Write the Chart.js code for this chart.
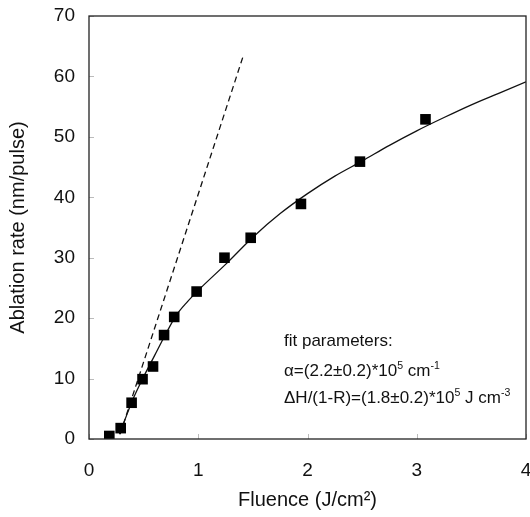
<!DOCTYPE html>
<html><head><meta charset="utf-8">
<script src="https://cdn.jsdelivr.net/npm/chart.js@4.4.1/dist/chart.umd.min.js"></script>
<style>html,body{margin:0;padding:0;background:#fff;}#wrap{width:530px;height:517px;}</style>
</head><body><div id="wrap"><canvas id="c" width="530" height="517"></canvas></div>
<script>
// measured data
const fluence = [0.186, 0.29, 0.39, 0.49, 0.586, 0.687, 0.78, 0.985, 1.24, 1.48, 1.94, 2.48, 3.08];
const rate    = [0.5, 1.8, 6.0, 9.9, 12.0, 17.2, 20.2, 24.4, 30.0, 33.3, 38.9, 45.9, 52.9];
// fit curve
const fitX = [0.28, 0.3, 0.35, 0.4, 0.5, 0.6, 0.7, 0.8, 0.9, 1.0, 1.25, 1.5, 1.75, 2.0, 2.25, 2.5, 2.75, 3.0, 3.25, 3.5, 3.75, 4.0];
const fitY = [0.8, 1.8, 4.2, 6.5, 10.3, 13.8, 17.3, 20.5, 22.7, 24.6, 28.9, 33.4, 37.3, 40.6, 43.5, 46.0, 48.6, 51.0, 53.2, 55.3, 57.2, 59.1];
// dashed linear limit
const dashX = [0.285, 1.41];
const dashY = [0.8, 63.3];
const xTicks = [0, 1, 2, 3, 4];
const yTicks = [0, 10, 20, 30, 40, 50, 60, 70];

const FONT = "'Liberation Sans', Arial, Helvetica, sans-serif";
const pts = (xs, ys) => xs.map((x, i) => ({x, y: ys[i]}));

const decor = {
  id: 'decor',
  afterDatasetsDraw(chart) {
    const {ctx, chartArea: a, scales: {x, y}} = chart;
    ctx.save();
    // inside tick marks
    ctx.strokeStyle = '#bbbbbb';
    ctx.lineWidth = 1;
    yTicks.forEach(v => {
      const py = Math.round(y.getPixelForValue(v)) + 0.5;
      ctx.beginPath(); ctx.moveTo(a.left, py); ctx.lineTo(a.left + 5, py); ctx.stroke();
    });
    xTicks.forEach(v => {
      const px = Math.round(x.getPixelForValue(v)) + 0.5;
      ctx.beginPath(); ctx.moveTo(px, a.bottom); ctx.lineTo(px, a.bottom - 5); ctx.stroke();
    });
    // frame
    ctx.strokeStyle = '#222';
    ctx.lineWidth = 1.3;
    ctx.strokeRect(a.left, a.top, a.right - a.left, a.bottom - a.top);
    // annotation
    ctx.fillStyle = '#111';
    ctx.textBaseline = 'alphabetic';
    const fs = 17;
    const lines = [
      [{t: 'fit parameters:'}],
      [{t: 'α=(2.2±0.2)*10'}, {t: '5', s: 1}, {t: ' cm'}, {t: '-1', s: 1}],
      [{t: 'ΔH/(1-R)=(1.8±0.2)*10'}, {t: '5', s: 1}, {t: ' J cm'}, {t: '-3', s: 1}]
    ];
    const lineVals = [15.4, 10.4, 6.0];
    const x0 = x.getPixelForValue(1.785);
    lines.forEach((segs, i) => {
      let cx = x0;
      const by = y.getPixelForValue(lineVals[i]);
      segs.forEach(sg => {
        if (sg.s) {
          ctx.font = (fs * 0.62) + 'px ' + FONT;
          ctx.fillText(sg.t, cx, by - fs * 0.42);
        } else {
          ctx.font = fs + 'px ' + FONT;
          ctx.fillText(sg.t, cx, by);
        }
        cx += ctx.measureText(sg.t).width;
      });
    });
    ctx.restore();
  }
};

new Chart(document.getElementById('c'), {
  type: 'scatter',
  data: {
    datasets: [
      {label: 'fit', data: pts(fitX, fitY), showLine: true, borderColor: '#111', borderWidth: 1.3, pointRadius: 0, cubicInterpolationMode: 'monotone', fill: false, order: 3},
      {label: 'linear', data: pts(dashX, dashY), showLine: true, borderColor: '#111', borderWidth: 1.3, borderDash: [6, 4], pointRadius: 0, fill: false, order: 2},
      {label: 'data', data: pts(fluence, rate), showLine: false, pointStyle: 'rect', pointRadius: 7.5, backgroundColor: '#000', borderColor: '#000', borderWidth: 0, order: 1}
    ]
  },
  options: {
    responsive: false,
    animation: false,
    events: [],
    layout: {autoPadding: false, padding: {top: 16, right: 4, left: 0, bottom: 0}},
    plugins: {legend: {display: false}, tooltip: {enabled: false}},
    scales: {
      x: {
        type: 'linear', min: 0, max: 4,
        afterBuildTicks: s => { s.ticks = xTicks.map(v => ({value: v})); },
        afterFit: s => { s.height = 78; s.paddingLeft = 0; s.paddingRight = 0; },
        grid: {display: false, drawTicks: false},
        border: {display: false},
        ticks: {padding: 20, color: '#111', font: {family: FONT, size: 19}},
        title: {display: true, text: 'Fluence (J/cm²)', color: '#111', font: {family: FONT, size: 20}, padding: {top: 0, bottom: 5}}
      },
      y: {
        type: 'linear', min: 0, max: 70,
        afterBuildTicks: s => { s.ticks = yTicks.map(v => ({value: v})); },
        afterFit: s => { s.width = 89; s.paddingTop = 0; s.paddingBottom = 0; },
        grid: {display: false, drawTicks: false},
        border: {display: false},
        ticks: {padding: 14, color: '#111', font: {family: FONT, size: 19}},
        title: {display: true, text: 'Ablation rate (nm/pulse)', color: '#111', font: {family: FONT, size: 20}, padding: {top: 6, bottom: 0}}
      }
    }
  },
  plugins: [decor]
});
</script></body></html>
